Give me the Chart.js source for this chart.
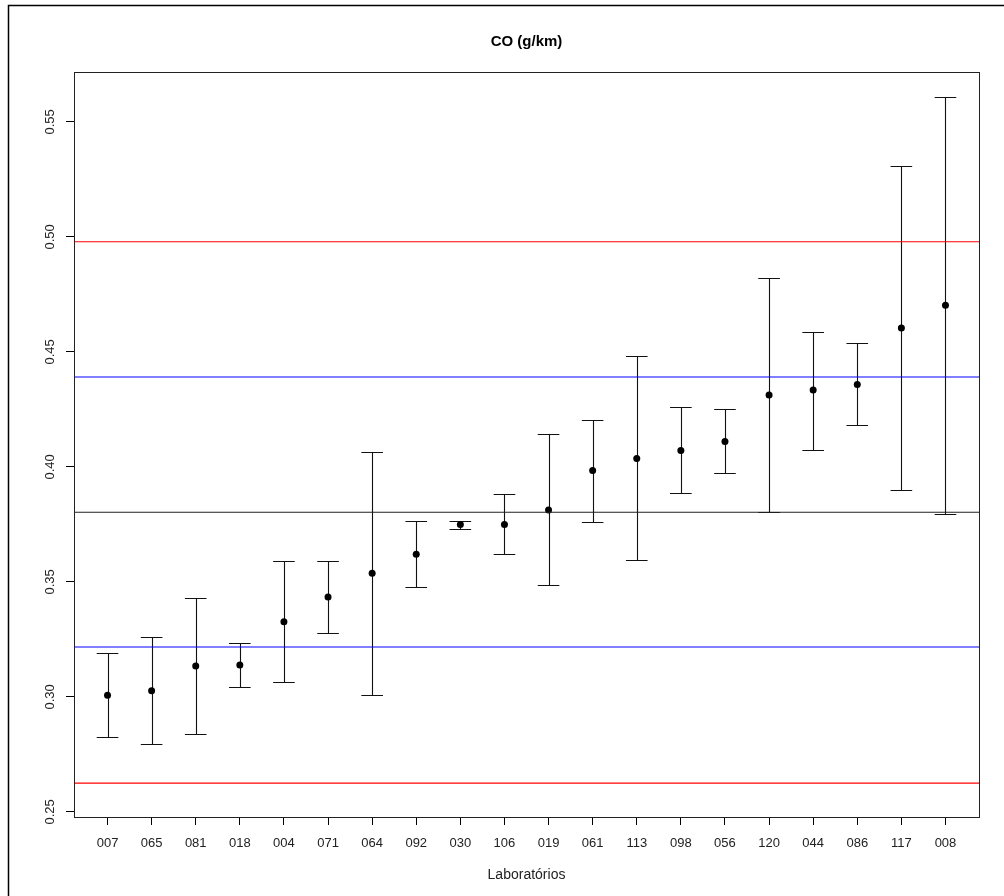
<!DOCTYPE html>
<html>
<head>
<meta charset="utf-8">
<script src="https://cdn.jsdelivr.net/npm/chart.js@4.4.0/dist/chart.umd.min.js"></script>
<style>
html, body { margin: 0; padding: 0; background: #fff; }
</style>
</head>
<body>
<canvas id="coChart" width="1004" height="896"></canvas>
<script>
// Laboratories, in plotted order
const labs = ['007', '065', '081', '018', '004', '071', '064', '092', '030', '106',
              '019', '061', '113', '098', '056', '120', '044', '086', '117', '008'];
// Mean value and interval limits for each laboratory
const means = [0.3007, 0.3027, 0.3135, 0.3139, 0.3327, 0.3435, 0.3538, 0.3620, 0.3750, 0.3750,
               0.3813, 0.3984, 0.4037, 0.4071, 0.4110, 0.4313, 0.4334, 0.4358, 0.4604, 0.4703];
const lower = [0.2825, 0.2796, 0.2839, 0.3042, 0.3067, 0.3280, 0.3009, 0.3480, 0.3732, 0.3620,
               0.3486, 0.3761, 0.3596, 0.3888, 0.3974, 0.3803, 0.4075, 0.4183, 0.3901, 0.3794];
const upper = [0.3193, 0.3261, 0.3430, 0.3236, 0.3591, 0.3591, 0.4067, 0.3765, 0.3767, 0.3881,
               0.4144, 0.4206, 0.4484, 0.4261, 0.4251, 0.4823, 0.4586, 0.4538, 0.5310, 0.5610];
// Reference lines: assigned value, inner limits, outer limits
const centerLine = 0.3803;
const blueLines = [0.3217, 0.4391];
const redLines = [0.2625, 0.4979];
// Y axis ticks
const yTicks = [0.25, 0.30, 0.35, 0.40, 0.45, 0.50, 0.55];

const xMin = 0.24, xMax = 20.76;

// horizontal line dataset helper
function hLine(v, color) {
  return {
    data: [{ x: xMin, y: v }, { x: xMax, y: v }],
    showLine: true,
    borderColor: color,
    borderWidth: 1.2,
    pointRadius: 0
  };
}

// Draws the whisker bars from the lower/upper arrays
const errorBars = {
  id: 'errorBars',
  beforeDatasetsDraw(chart) {
    const ctx = chart.ctx;
    const xs = chart.scales.x, ys = chart.scales.y;
    ctx.save();
    ctx.strokeStyle = '#111';
    ctx.lineWidth = 1.1;
    labs.forEach((lab, i) => {
      const x = Math.round(xs.getPixelForValue(i + 1)) + 0.5;
      const xl = xs.getPixelForValue(i + 1 - 0.245);
      const xr = xs.getPixelForValue(i + 1 + 0.245);
      const yl = Math.round(ys.getPixelForValue(lower[i])) + 0.5;
      const yu = Math.round(ys.getPixelForValue(upper[i])) + 0.5;
      ctx.beginPath();
      ctx.moveTo(x, yl); ctx.lineTo(x, yu);
      ctx.moveTo(xl, yl); ctx.lineTo(xr, yl);
      ctx.moveTo(xl, yu); ctx.lineTo(xr, yu);
      ctx.stroke();
    });
    ctx.restore();
  }
};

// Plot box and figure border
const frame = {
  id: 'frame',
  beforeDraw(chart) {
    const ctx = chart.ctx;
    ctx.save();
    ctx.fillStyle = '#fff';
    ctx.fillRect(0, 0, chart.width, chart.height);
    ctx.strokeStyle = '#000';
    ctx.lineWidth = 1.5;
    ctx.beginPath();
    ctx.moveTo(8.5, chart.height); ctx.lineTo(8.5, 5.5); ctx.lineTo(chart.width, 5.5);
    ctx.stroke();
    ctx.restore();
  },
  afterDraw(chart) {
    const a = chart.chartArea;
    const ctx = chart.ctx;
    ctx.save();
    ctx.strokeStyle = '#222';
    ctx.lineWidth = 1;
    ctx.strokeRect(Math.round(a.left) + 0.5, Math.round(a.top) + 0.5,
                   Math.round(a.right - a.left), Math.round(a.bottom - a.top));
    ctx.restore();
  }
};

const ctx = document.getElementById('coChart').getContext('2d');
new Chart(ctx, {
  type: 'scatter',
  data: {
    datasets: [
      hLine(redLines[0], '#ff0000'),
      hLine(redLines[1], '#ff0000'),
      hLine(blueLines[0], '#0000ff'),
      hLine(blueLines[1], '#0000ff'),
      hLine(centerLine, '#222'),
      {
        data: means.map((m, i) => ({ x: i + 1, y: m })),
        backgroundColor: '#000',
        borderWidth: 0,
        pointRadius: 3.5
      }
    ]
  },
  options: {
    responsive: false,
    animation: false,
    layout: { padding: { left: 0, right: 25, top: 0, bottom: 0 } },
    plugins: {
      legend: { display: false },
      tooltip: { enabled: false },
      title: {
        display: true,
        text: 'CO (g/km)',
        fullSize: false,
        color: '#000',
        font: { family: 'Liberation Sans, Arial, sans-serif', size: 15, weight: 'bold' },
        padding: { top: 33, bottom: 21 }
      }
    },
    scales: {
      x: {
        type: 'linear',
        min: xMin,
        max: xMax,
        afterBuildTicks: s => { s.ticks = labs.map((_, i) => ({ value: i + 1 })); },
        afterFit: s => { s.height = 79; },
        ticks: {
          autoSkip: false,
          maxRotation: 0,
          padding: 11,
          color: '#222',
          font: { family: 'Liberation Sans, Arial, sans-serif', size: 13 },
          callback: v => labs[v - 1]
        },
        grid: { drawOnChartArea: false, tickLength: 8, color: '#000' },
        border: { display: false },
        title: {
          display: true,
          text: 'Laboratórios',
          color: '#222',
          font: { family: 'Liberation Sans, Arial, sans-serif', size: 14 },
          padding: { top: 0, bottom: 12 }
        }
      },
      y: {
        min: 0.2478,
        max: 0.5717,
        afterBuildTicks: s => { s.ticks = yTicks.map(v => ({ value: v })); },
        afterFit: s => { s.width = 74; },
        ticks: {
          minRotation: 90,
          maxRotation: 90,
          crossAlign: 'center',
          padding: 3,
          color: '#222',
          font: { family: 'Liberation Sans, Arial, sans-serif', size: 13 },
          callback: v => v.toFixed(2)
        },
        grid: { drawOnChartArea: false, tickLength: 8, color: '#000' },
        border: { display: false }
      }
    }
  },
  plugins: [frame, errorBars]
});
</script>
</body>
</html>
